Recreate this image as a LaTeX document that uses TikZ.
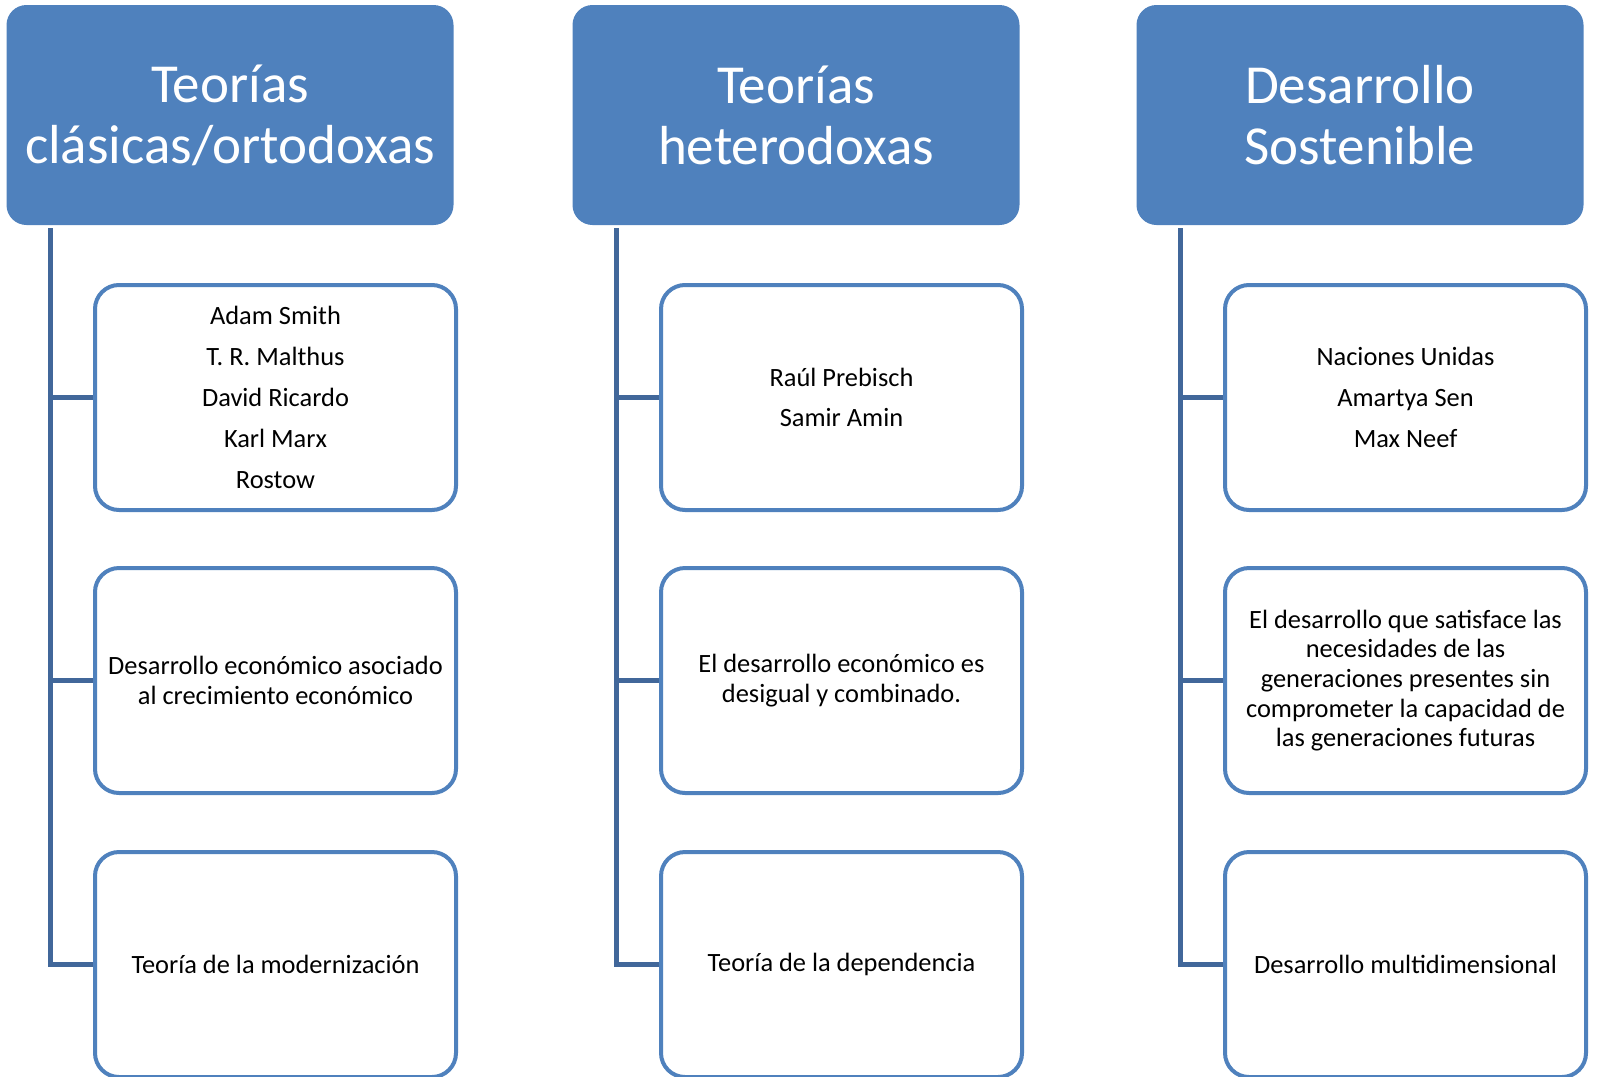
\documentclass[tikz,border=0pt]{standalone}
\usepackage{fontspec}
\setmainfont{Carlito}
\usetikzlibrary{calc}

\definecolor{hdrblue}{HTML}{4F81BD}
\definecolor{linkblue}{HTML}{41679A}

\tikzset{
  header/.style={fill=hdrblue,rounded corners=10pt,minimum width=223.5pt,minimum height=110pt,
    inner sep=0pt,align=center,text=white,font=\fontsize{27.5}{30.5}\selectfont},
  item/.style={draw=hdrblue,line width=2pt,fill=white,rounded corners=12pt,minimum width=180.5pt,
    minimum height=112.5pt,inner sep=0pt,align=center,font=\fontsize{13.2}{14.8}\selectfont},
  link/.style={linkblue,line width=2.5pt}
}

\begin{document}
\begin{tikzpicture}[x=0.5pt,y=-0.5pt]
\useasboundingbox (0,0) rectangle (1598,1076);
\clip (0,0) rectangle (1598,1076);

\node[header] (hdrA) at (230,115) {Teorías\\clásicas/ortodoxas};
\node[header] (hdrB) at (796,115) {Teorías\\heterodoxas};
\node[header] (hdrC) at (1360,115) {Desarrollo\\Sostenible};

\coordinate (spineA) at (50,228);
\coordinate (spineB) at (616,228);
\coordinate (spineC) at (1180,228);

\node[item] (itemA1) at (275.5,397.5) {Adam Smith\\[5.6pt] T. R. Malthus\\[5.6pt] David Ricardo\\[5.6pt] Karl Marx\\[5.6pt] Rostow};
\node[item] (itemA2) at (275.5,680.5) {Desarrollo económico asociado\\al crecimiento económico};
\node[item] (itemA3) at (275.5,964.5) {Teoría de la modernización};

\node[item] (itemB1) at (841.5,397.5) {Raúl Prebisch\\[5.6pt] Samir Amin};
\node[item] (itemB2) at (841.5,680.5) {El desarrollo económico es\\desigual y combinado.};
\node[item] (itemB3) at (841.5,964.5) {Teoría de la dependencia};

\node[item] (itemC1) at (1405.5,397.5) {Naciones Unidas\\[5.6pt] Amartya Sen\\[5.6pt] Max Neef};
\node[item] (itemC2) at (1405.5,680.5) {El desarrollo que satisface las\\necesidades de las\\generaciones presentes sin\\comprometer la capacidad de\\las generaciones futuras};
\node[item] (itemC3) at (1405.5,964.5) {Desarrollo multidimensional};

\draw[link] (spineA) |- (itemA3.west);
\draw[link] (spineA |- itemA1.west) -- (itemA1.west);
\draw[link] (spineA |- itemA2.west) -- (itemA2.west);

\draw[link] (spineB) |- (itemB3.west);
\draw[link] (spineB |- itemB1.west) -- (itemB1.west);
\draw[link] (spineB |- itemB2.west) -- (itemB2.west);

\draw[link] (spineC) |- (itemC3.west);
\draw[link] (spineC |- itemC1.west) -- (itemC1.west);
\draw[link] (spineC |- itemC2.west) -- (itemC2.west);
\end{tikzpicture}
\end{document}
